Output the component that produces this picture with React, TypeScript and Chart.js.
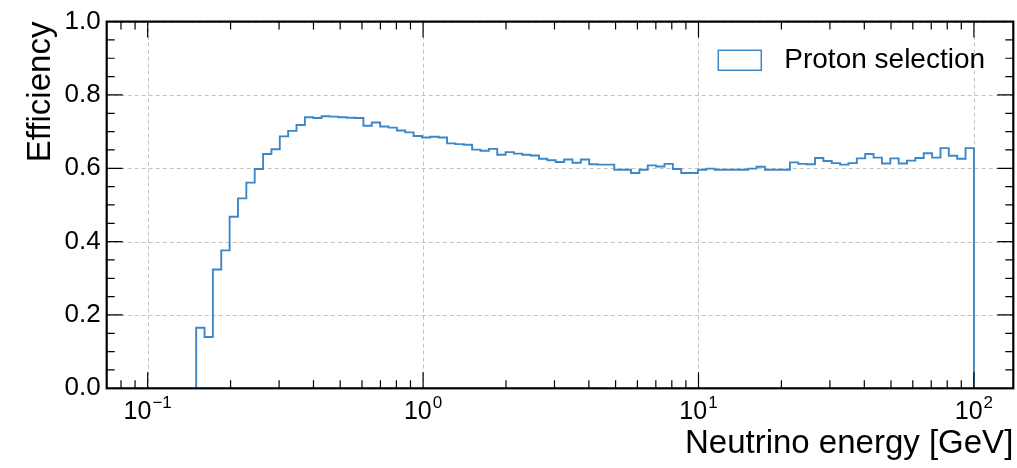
import React, { useEffect, useRef } from "react";
import { Chart, registerables } from "chart.js";

Chart.register(...registerables);

// ---------------- data ----------------
const BIN_LOW = 0.15; // GeV, lower edge of first bin
const BIN_HIGH = 100; // GeV, upper edge of last bin

// efficiency per log-spaced bin (93 bins from 0.15 to 100 GeV)
const efficiency = [
  0.165, 0.14, 0.324, 0.376, 0.468, 0.518, 0.561, 0.598, 0.639, 0.652,
  0.687, 0.702, 0.718, 0.739, 0.737, 0.742, 0.741, 0.739, 0.738, 0.737,
  0.716, 0.725, 0.714, 0.711, 0.703, 0.698, 0.688, 0.684, 0.686, 0.684,
  0.668, 0.666, 0.664, 0.651, 0.648, 0.653, 0.637, 0.644, 0.64, 0.637,
  0.635, 0.626, 0.622, 0.617, 0.624, 0.615, 0.624, 0.611, 0.61, 0.61,
  0.596, 0.596, 0.587, 0.596, 0.608, 0.605, 0.612, 0.598, 0.587, 0.587,
  0.596, 0.599, 0.596, 0.596, 0.596, 0.596, 0.599, 0.604, 0.596, 0.596,
  0.596, 0.616, 0.612, 0.611, 0.628, 0.62, 0.614, 0.61, 0.614, 0.627,
  0.639, 0.629, 0.613, 0.627, 0.613, 0.621, 0.628, 0.641, 0.629, 0.655,
  0.634, 0.626, 0.655,
];

const seriesLabel = "Proton selection";
const xTitle = "Neutrino energy [GeV]";
const yTitle = "Efficiency";

const X_MIN = 0.071;
const X_MAX = 139;
const xDecades = [0.1, 1, 10, 100];
const xDecadeExponents = ["\u22121", "0", "1", "2"];
const yTicks = [0, 0.2, 0.4, 0.6, 0.8, 1.0];
const Y_MINOR_STEP = 0.05;

const LINE_COLOR = "#3d87c6";
const FONT = "'Liberation Sans', Arial, sans-serif";

// ---------------- helpers ----------------
function binEdges(): number[] {
  const n = efficiency.length;
  const l0 = Math.log10(BIN_LOW);
  const l1 = Math.log10(BIN_HIGH);
  const edges: number[] = [];
  for (let i = 0; i <= n; i++) edges.push(Math.pow(10, l0 + ((l1 - l0) * i) / n));
  return edges;
}

function stepPoints() {
  const e = binEdges();
  const pts: { x: number; y: number }[] = [{ x: e[0], y: 0 }];
  efficiency.forEach((v, i) => {
    pts.push({ x: e[i], y: v });
    pts.push({ x: e[i + 1], y: v });
  });
  pts.push({ x: e[e.length - 1], y: 0 });
  return pts;
}

const decoPlugin = {
  id: "deco",
  beforeDatasetsDraw(chart: any) {
    const { ctx, chartArea: a, scales } = chart;
    const x = scales.x;
    const y = scales.y;
    ctx.save();
    ctx.strokeStyle = "#c2c2c2";
    ctx.lineWidth = 1;
    ctx.setLineDash([4, 3]);
    ctx.beginPath();
    for (const d of xDecades) {
      const px = Math.round(x.getPixelForValue(d)) + 0.5;
      ctx.moveTo(px, a.top);
      ctx.lineTo(px, a.bottom);
    }
    for (const t of yTicks) {
      const py = Math.round(y.getPixelForValue(t)) + 0.5;
      ctx.moveTo(a.left, py);
      ctx.lineTo(a.right, py);
    }
    ctx.stroke();
    ctx.restore();
  },
  afterDraw(chart: any) {
    const { ctx, chartArea: a, scales } = chart;
    const x = scales.x;
    const y = scales.y;
    const MAJ = 16;
    const MIN = 8;
    ctx.save();
    ctx.strokeStyle = "#000";
    ctx.lineWidth = 1.2;
    ctx.beginPath();
    const xTick = (v: number, len: number) => {
      const px = x.getPixelForValue(v);
      ctx.moveTo(px, a.bottom);
      ctx.lineTo(px, a.bottom - len);
      ctx.moveTo(px, a.top);
      ctx.lineTo(px, a.top + len);
    };
    for (let k = -2; k <= 2; k++) {
      for (let m = 1; m <= 9; m++) {
        const v = m * Math.pow(10, k);
        if (v <= X_MIN || v >= X_MAX) continue;
        xTick(v, m === 1 ? MAJ : MIN);
      }
    }
    const yTick = (v: number, len: number) => {
      const py = y.getPixelForValue(v);
      ctx.moveTo(a.left, py);
      ctx.lineTo(a.left + len, py);
      ctx.moveTo(a.right, py);
      ctx.lineTo(a.right - len, py);
    };
    const nMinor = Math.round(1 / Y_MINOR_STEP);
    for (let i = 1; i < nMinor; i++) {
      const v = i * Y_MINOR_STEP;
      yTick(v, i % 4 === 0 ? MAJ : MIN);
    }
    ctx.stroke();

    // frame
    ctx.lineWidth = 2.2;
    ctx.strokeRect(a.left, a.top, a.right - a.left, a.bottom - a.top);

    // x tick labels: 10^k
    ctx.fillStyle = "#000";
    ctx.textBaseline = "alphabetic";
    ctx.textAlign = "left";
    xDecades.forEach((d, i) => {
      const px = x.getPixelForValue(d);
      ctx.font = `25px ${FONT}`;
      const wb = ctx.measureText("10").width;
      ctx.font = `17px ${FONT}`;
      const we = ctx.measureText(xDecadeExponents[i]).width;
      const left = px - (wb + we + 1) / 2;
      ctx.font = `25px ${FONT}`;
      ctx.fillText("10", left, a.bottom + 31);
      ctx.font = `17px ${FONT}`;
      ctx.fillText(xDecadeExponents[i], left + wb + 1, a.bottom + 20);
    });

    // legend
    const bx = a.right - 295;
    const by = a.top + 28.7;
    ctx.strokeStyle = LINE_COLOR;
    ctx.lineWidth = 1.5;
    ctx.strokeRect(bx, by, 43, 20);
    ctx.font = `28px ${FONT}`;
    ctx.fillStyle = "#000";
    ctx.textAlign = "left";
    ctx.textBaseline = "middle";
    ctx.fillText(chart.data.datasets[0].label, bx + 66, by + 10);
    ctx.restore();
  },
};

export default function App() {
  const canvasRef = useRef<HTMLCanvasElement | null>(null);

  useEffect(() => {
    document.body.style.margin = "0";
    const canvas = canvasRef.current;
    if (!canvas) return;
    Chart.defaults.font.family = FONT;
    const chart = new Chart(canvas, {
      type: "line",
      data: {
        datasets: [
          {
            label: seriesLabel,
            data: stepPoints(),
            borderColor: LINE_COLOR,
            borderWidth: 1.9,
            pointRadius: 0,
            tension: 0,
            fill: false,
          },
        ],
      },
      options: {
        animation: false,
        responsive: false,
        maintainAspectRatio: false,
        parsing: false as any,
        layout: { padding: { left: 0, right: 3.7, top: 18.3, bottom: 0 } },
        plugins: {
          legend: { display: false },
          tooltip: { enabled: false },
        },
        scales: {
          x: {
            type: "logarithmic",
            min: X_MIN,
            max: X_MAX,
            grid: { display: false, drawTicks: false },
            border: { display: false },
            ticks: { display: false },
            afterFit: (s: any) => {
              s.height = 79.7;
            },
            title: {
              display: true,
              text: xTitle,
              align: "end",
              color: "#000",
              font: { size: 33, family: FONT },
              padding: { top: 0, bottom: 4.2 },
            },
          },
          y: {
            type: "linear",
            min: 0,
            max: 1,
            grid: { display: false, drawTicks: false },
            border: { display: false },
            ticks: {
              stepSize: 0.2,
              padding: 6,
              color: "#000",
              font: { size: 26, family: FONT },
              callback: (v: any) => Number(v).toFixed(1),
            },
            afterFit: (s: any) => {
              s.width = 106.7;
            },
            title: {
              display: true,
              text: yTitle,
              align: "end",
              color: "#000",
              font: { size: 33, family: FONT },
              padding: { top: 21, bottom: 0 },
            },
          },
        },
      },
      plugins: [decoPlugin],
    });
    return () => chart.destroy();
  }, []);

  return (
    <div style={{ position: "absolute", left: 0, top: 0, width: 1017, height: 468, background: "#fff" }}>
      <canvas ref={canvasRef} width={1017} height={468} style={{ display: "block" }} />
    </div>
  );
}
